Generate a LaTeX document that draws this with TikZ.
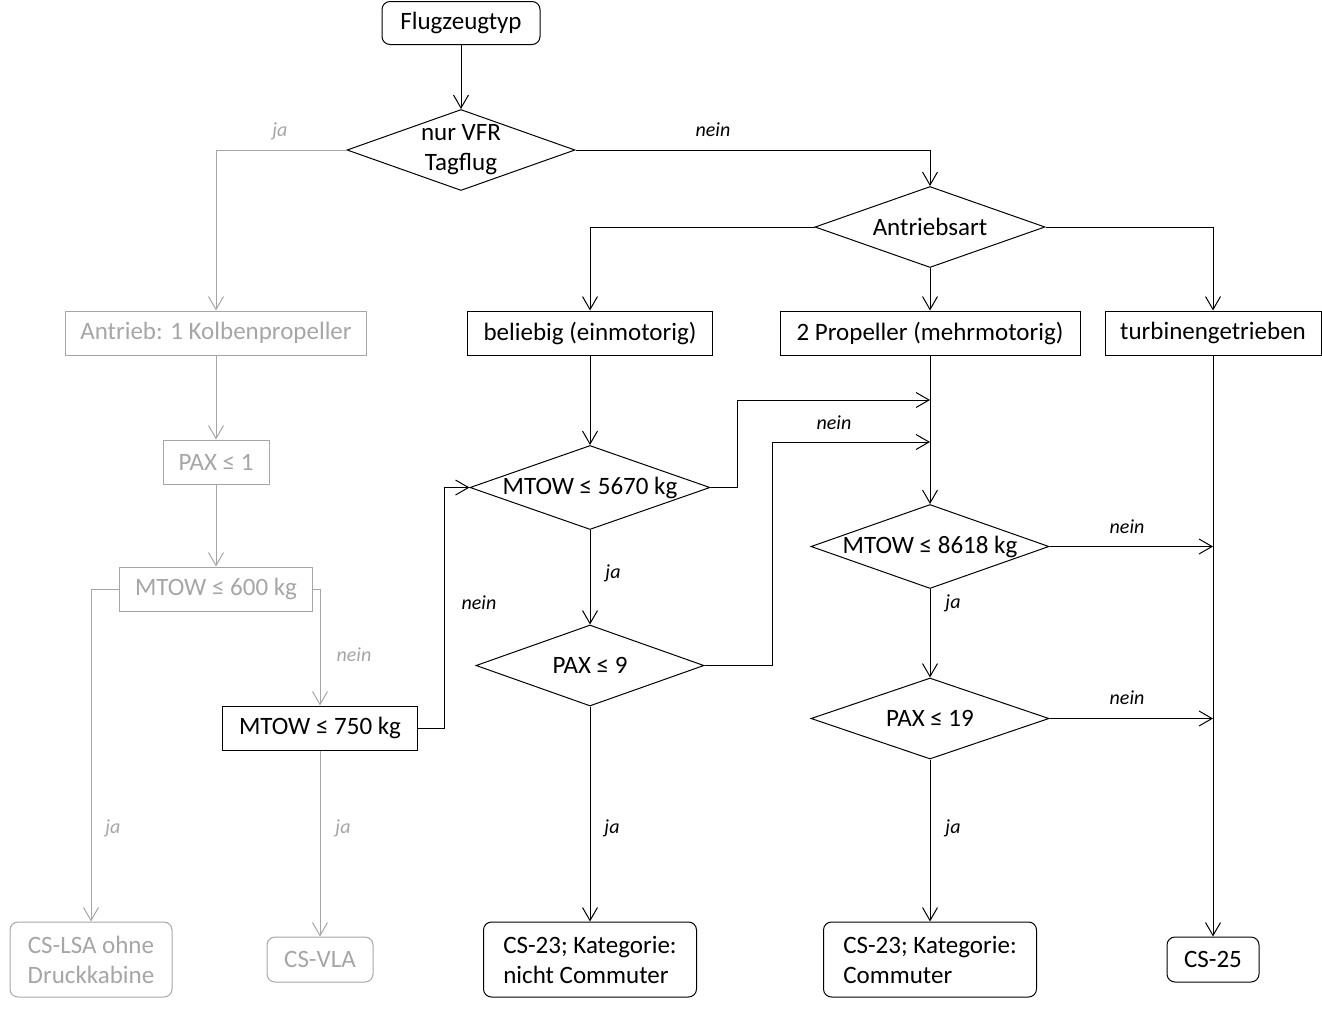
\documentclass[tikz,border=0pt]{standalone}
\usepackage{fontspec}
\setmainfont{Carlito}
\usetikzlibrary{arrows.meta,shapes.geometric}
\definecolor{greyc}{RGB}{166,166,166}
\begin{document}
\begin{tikzpicture}[x=1pt,y=-1pt,
  every node/.style={font=\fontsize{25}{30}\selectfont},
  box/.style={draw, rectangle, inner sep=0pt, line width=1pt},
  rbox/.style={box, rounded corners=8pt},
  dia/.style={draw, diamond, inner sep=0pt, aspect=2.8, line width=1pt},
  gr/.style={draw=greyc, text=greyc},
  arr/.style={line width=1pt, -{Straight Barb[length=13pt,width=15pt]}},
  garr/.style={arr, draw=greyc},
  lab/.style={font=\itshape\fontsize{20}{24}\selectfont},
  glab/.style={lab, text=greyc}]
\useasboundingbox (0,0) rectangle (1322,1021);

% nodes
\node[rbox, minimum width=158pt, minimum height=43pt] (flug) at (461,23) {Flugzeugtyp};
\node[dia, minimum width=228pt, minimum height=81pt, align=center] (vfr) at (461,150) {nur VFR\\Tagflug};
\node[dia, minimum width=230pt, minimum height=81pt] (antr) at (930,227) {Antriebsart};
\node[box, minimum width=245pt, minimum height=44pt] (bel) at (590,333) {beliebig (einmotorig)};
\node[box, minimum width=300pt, minimum height=44pt] (prop) at (930,333) {2 Propeller (mehrmotorig)};
\node[box, minimum width=216pt, minimum height=44pt] (turb) at (1213,333) {turbinengetrieben};
\node[box, gr, minimum width=301pt, minimum height=44pt] (kolb) at (216,333) {Antrieb: 1 Kolbenpropeller};
\node[box, gr, minimum width=106pt, minimum height=44pt] (pax1) at (216,462) {PAX ≤ 1};
\node[box, gr, minimum width=193pt, minimum height=44pt] (m600) at (216,589) {MTOW ≤ 600 kg};
\node[box, minimum width=195pt, minimum height=44pt] (m750) at (320,728) {MTOW ≤ 750 kg};
\node[dia, minimum width=240pt, minimum height=81pt] (m5670) at (590,487.5) {MTOW ≤ 5670 kg};
\node[dia, minimum width=228pt, minimum height=81pt] (pax9) at (590,665.5) {PAX ≤ 9};
\node[dia, minimum width=238pt, minimum height=81pt] (m8618) at (930,546.5) {MTOW ≤ 8618 kg};
\node[dia, minimum width=238pt, minimum height=81pt] (pax19) at (930,718.5) {PAX ≤ 19};
\node[rbox, gr, minimum width=162pt, minimum height=75pt, align=center] (lsa) at (91,959.5) {CS-LSA ohne\\Druckkabine};
\node[rbox, gr, minimum width=106pt, minimum height=45pt] (vla) at (320,959.5) {CS-VLA};
\node[rbox, minimum width=213pt, minimum height=75pt, align=left] (c23n) at (590,959.5) {CS-23; Kategorie:\\nicht Commuter};
\node[rbox, minimum width=213pt, minimum height=75pt, align=left] (c23c) at (930,959.5) {CS-23; Kategorie:\\Commuter};
\node[rbox, minimum width=92pt, minimum height=45pt] (cs25) at (1213,959.5) {CS-25};

% junction points
\coordinate (j1) at (930,400);
\coordinate (j2) at (930,442);
\coordinate (j3) at (1213,546.5);
\coordinate (j4) at (1213,718.5);

% connectors
\draw[arr] (flug.south) -- (vfr.north);
\draw[garr] (vfr.west) -| (kolb.north);
\draw[arr] (vfr.east) -| (antr.north);
\draw[arr] (antr.west) -| (bel.north);
\draw[arr] (antr.south) -- (prop.north);
\draw[arr] (antr.east) -| (turb.north);
\draw[garr] (kolb.south) -- (pax1.north);
\draw[garr] (pax1.south) -- (m600.north);
\draw[garr] (m600.west) -| (lsa.north);
\draw[garr] (m600.east) -| (m750.north);
\draw[garr] (m750.south) -- (vla.north);
\draw[arr] (m750.east) -- ++(26,0) |- (m5670.west);
\draw[arr] (bel.south) -- (m5670.north);
\draw[arr] (m5670.east) -- ++(27,0) |- (j1);
\draw[arr] (m5670.south) -- (pax9.north);
\draw[arr] (pax9.east) -- ++(68,0) |- (j2);
\draw[arr] (pax9.south) -- (c23n.north);
\draw[arr] (prop.south) -- (m8618.north);
\draw[arr] (m8618.east) -- (j3);
\draw[arr] (m8618.south) -- (pax19.north);
\draw[arr] (pax19.east) -- (j4);
\draw[arr] (pax19.south) -- (c23c.north);
\draw[arr] (turb.south) -- (cs25.north);

% labels
\node[glab] (l1) at (280,131) {ja};
\node[lab] (l2) at (713,130) {nein};
\node[lab] (l3) at (834,423) {nein};
\node[lab] (l4) at (613,573) {ja};
\node[lab] (l5) at (479,603) {nein};
\node[lab] (l6) at (612,828) {ja};
\node[lab] (l7) at (1127,527) {nein};
\node[lab] (l8) at (953,603) {ja};
\node[lab] (l9) at (1127,698) {nein};
\node[lab] (l10) at (953,828) {ja};
\node[glab] (l11) at (113,828) {ja};
\node[glab] (l12) at (354,655) {nein};
\node[glab] (l13) at (343,828) {ja};
\end{tikzpicture}
\end{document}
